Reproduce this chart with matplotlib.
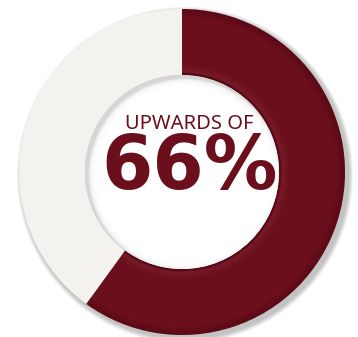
import matplotlib.pyplot as plt
from matplotlib.patches import Wedge, Circle

# data
labels = ['share', 'rest']
values = [60, 40]
colors = ['#6b0f1c', '#f3f2ee']
top_text = 'UPWARDS OF'
big_text = '66%'

W, H = 358, 337
cx, cy = 182, 165
r_out, r_in = 163, 97

fig = plt.figure(figsize=(W / 100, H / 100), dpi=100)
ax = fig.add_axes([0, 0, 1, 1])

# soft drop shadow behind the ring (right / bottom side)
for i in range(8):
    ax.add_patch(Circle((cx + 3, cy - 3), r_out + 1 + i * 0.6, color='#000000',
                        alpha=0.03, lw=0, zorder=0))

wedges, _ = ax.pie(values, colors=colors, startangle=90, counterclock=False,
                   radius=r_out, center=(cx, cy), frame=True,
                   wedgeprops=dict(width=r_out - r_in, linewidth=0))
ax.set_xlim(0, W)
ax.set_ylim(0, H)
ax.set_aspect('equal')
ax.axis('off')

# bevel shading on the red part
red = wedges[0]
for k in range(6):
    # darker outer rim
    ax.add_patch(Wedge((cx, cy), r_out - k * 1.2, red.theta1, red.theta2,
                       width=1.2, color='#2a0008', alpha=0.08 + 0.035 * (5 - k), lw=0, zorder=3))
    # lighter band near the inner rim
    ax.add_patch(Wedge((cx, cy), r_in + 10 - k * 1.2, red.theta1, red.theta2,
                       width=1.2, color='#c06070', alpha=0.04 + 0.02 * k, lw=0, zorder=3))
ax.add_patch(Wedge((cx, cy), r_in + 2, red.theta1, red.theta2, width=2,
                   color='#3a0510', alpha=0.45, lw=0, zorder=3))

# hole with inner shadow coming from the top left
hole = Circle((cx, cy), r_in, color='#d6d6d6', lw=0, zorder=4)
ax.add_patch(hole)
for k in range(8):
    c = Circle((cx + 2.5, cy - 2.5), r_in - 1 - k * 0.8, color='white',
               alpha=0.35, lw=0, zorder=5)
    ax.add_patch(c)
    c.set_clip_path(hole)
inner = Circle((cx + 2.5, cy - 2.5), r_in - 8, color='white', lw=0, zorder=5)
ax.add_patch(inner)
inner.set_clip_path(hole)

ax.text(189, 213, top_text, ha='center', va='center', fontsize=14.5,
        family='Noto Sans', fontweight='light', color='#6b0f1c', zorder=6)
ax.text(190, 168, big_text, ha='center', va='center', fontsize=53,
        family='DejaVu Sans', fontweight='bold', color='#6b0f1c', zorder=6)

fig.savefig('out.png', dpi=100)
